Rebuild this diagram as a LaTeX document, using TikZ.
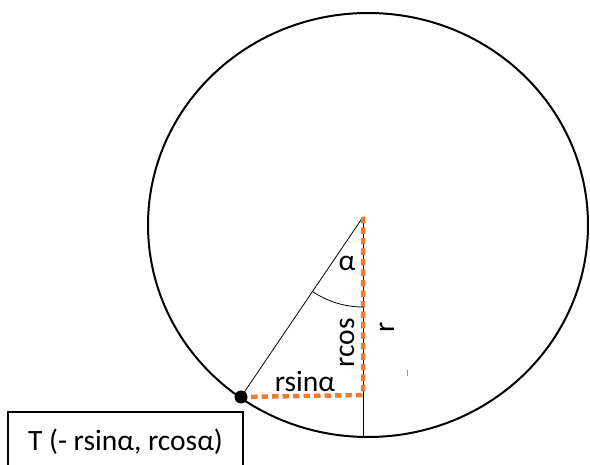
\documentclass[tikz,border=0pt]{standalone}
\usepackage{fontspec}
\setmainfont{Carlito}
\usetikzlibrary{calc}
\definecolor{legorange}{RGB}{237,125,49}
\tikzset{leg/.style={legorange,line width=4.5pt,dash pattern=on 6.5pt off 4pt},
  lbl/.style={font=\fontsize{29.5}{32}\selectfont,inner sep=0pt}}

\begin{document}
\begin{tikzpicture}[x=1pt,y=-1pt]
\clip (0,0) rectangle (590,465);
\coordinate (O) at (363,217); \coordinate (T) at (241,397); \coordinate (F) at (363,395); \coordinate (B) at (363,437);
\draw[line width=2pt] (368,225) ellipse [x radius=220, y radius=212];
\draw[line width=0.8pt] (O)--(T);
\draw[line width=0.8pt] (O)--(B);
\draw[leg] (O)--(F)--(T);
\fill (T) circle [radius=6.5];
\draw[line width=0.8pt] (O) ++(124:90) arc[start angle=124, end angle=90, radius=90];
\draw[black!40,line width=0.8pt] (407,370)--(407,376);
\node[lbl] (alpha) at (347,263) {α};
\node[lbl,rotate=90] (rcos) at (347,343) {rcos};
\node[lbl,rotate=90] (r) at (387,327) {r};
\node[lbl] (rsin) at (305,381) {rsinα};
\node[lbl,draw,line width=1.2pt,minimum width=235,minimum height=60] (tbox) at (125.5,442) {T (- rsinα, rcosα)};
\end{tikzpicture}
\end{document}
